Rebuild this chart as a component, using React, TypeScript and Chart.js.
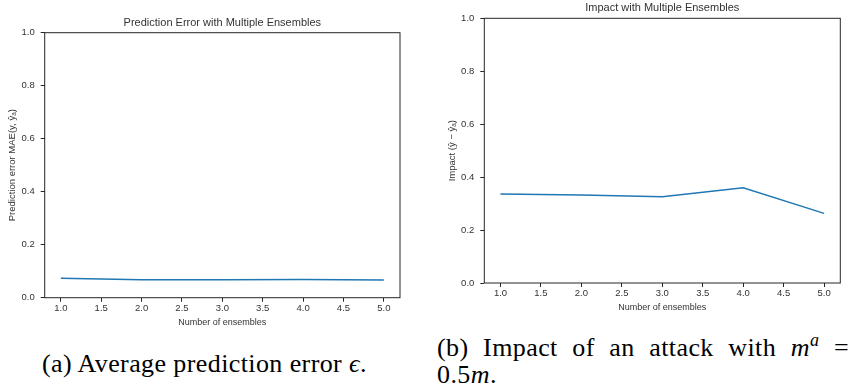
import React, { useEffect, useRef } from "react";
import { Chart, registerables } from "chart.js";
Chart.register(...registerables);

const ensembles = [1, 2, 3, 4, 5];
const predictionError = [0.073, 0.068, 0.068, 0.069, 0.067];
const impact = [0.336, 0.332, 0.326, 0.36, 0.263];
const xTicks = [1.0, 1.5, 2.0, 2.5, 3.0, 3.5, 4.0, 4.5, 5.0];
const yTicks = [0.0, 0.2, 0.4, 0.6, 0.8, 1.0];

const FONT = "'Liberation Sans', Arial, sans-serif";
const SERIF = "'Liberation Serif', 'Times New Roman', serif";
const LINE = "#1f77b4";
const AXIS = "#262626";
const TEXT = "#333333";

type PanelProps = {
  title: string;
  yTitle: string;
  values: number[];
  width: number;
  height: number;
  plotTop: number;
  padRight: number;
  yWidth: number;
  xHeight: number;
  yTitlePad: number;
  titleY: number;
};

function Panel(p: PanelProps) {
  const ref = useRef<HTMLCanvasElement | null>(null);
  useEffect(() => {
    if (!ref.current) return;
    const frame = {
      id: "frame",
      afterDraw(chart: any) {
        const { ctx, chartArea } = chart;
        const { left, top, right, bottom } = chartArea;
        ctx.save();
        ctx.strokeStyle = AXIS;
        ctx.lineWidth = 1;
        ctx.strokeRect(left, top, right - left, bottom - top);
        ctx.fillStyle = TEXT;
        ctx.font = "11px " + FONT;
        ctx.textAlign = "center";
        ctx.textBaseline = "middle";
        ctx.fillText(p.title, (left + right) / 2, p.titleY);
        ctx.restore();
      },
    };
    const chart = new Chart(ref.current, {
      type: "line",
      data: {
        datasets: [
          {
            data: ensembles.map((x, i) => ({ x, y: p.values[i] })),
            borderColor: LINE,
            borderWidth: 1.5,
            pointRadius: 0,
            tension: 0,
            fill: false,
          },
        ],
      },
      options: {
        animation: false,
        responsive: false,
        layout: { padding: { top: p.plotTop, right: p.padRight, left: 0, bottom: 0 } },
        plugins: { legend: { display: false }, tooltip: { enabled: false }, title: { display: false } },
        scales: {
          x: {
            type: "linear",
            min: 0.8,
            max: 5.2,
            afterBuildTicks: (s: any) => {
              s.ticks = xTicks.map((v) => ({ value: v }));
            },
            afterFit: (s: any) => {
              s.height = p.xHeight;
            },
            ticks: {
              callback: (v: any) => Number(v).toFixed(1),
              font: { family: FONT, size: 9.5 },
              color: TEXT,
              padding: 1,
              maxRotation: 0,
              autoSkip: false,
            },
            grid: { display: true, drawOnChartArea: false, drawTicks: true, tickLength: 4, tickColor: AXIS },
            border: { display: false },
            title: {
              display: true,
              text: "Number of ensembles",
              font: { family: FONT, size: 9 },
              color: TEXT,
              padding: { top: 0, bottom: 7 },
            },
          },
          y: {
            type: "linear",
            min: 0,
            max: 1,
            afterBuildTicks: (s: any) => {
              s.ticks = yTicks.map((v) => ({ value: v }));
            },
            afterFit: (s: any) => {
              s.width = p.yWidth;
            },
            ticks: {
              callback: (v: any) => Number(v).toFixed(1),
              font: { family: FONT, size: 9.5 },
              color: TEXT,
              padding: 6,
            },
            grid: { display: true, drawOnChartArea: false, drawTicks: true, tickLength: 4, tickColor: AXIS },
            border: { display: false },
            title: {
              display: true,
              text: p.yTitle,
              font: { family: FONT, size: 9.5 },
              color: TEXT,
              padding: { top: p.yTitlePad, bottom: 0 },
            },
          },
        },
      },
      plugins: [frame],
    } as any);
    return () => chart.destroy();
  }, []);
  return <canvas ref={ref} width={p.width} height={p.height} style={{ display: "block" }} />;
}

const cap: React.CSSProperties = {
  position: "absolute",
  fontFamily: SERIF,
  fontSize: 26,
  lineHeight: "26px",
  letterSpacing: "0.4px",
  whiteSpace: "nowrap",
  color: "#000",
};

export default function App() {
  return (
    <div style={{ position: "absolute", left: 0, top: 0, width: 854, height: 390, background: "#fff", overflow: "hidden" }}>
      <div style={{ position: "absolute", left: 0, top: 0 }}>
        <Panel
          title="Prediction Error with Multiple Ensembles"
          yTitle="Prediction error MAE(y, ŷₐ)"
          values={predictionError}
          width={427}
          height={335}
          plotTop={32.7}
          padRight={27}
          yWidth={44.7}
          xHeight={37.3}
          yTitlePad={6.9}
          titleY={23.3}
        />
      </div>
      <div style={{ position: "absolute", left: 427, top: 0 }}>
        <Panel
          title="Impact with Multiple Ensembles"
          yTitle="Impact (ŷ − ŷₐ)"
          values={impact}
          width={427}
          height={320}
          plotTop={18.3}
          padRight={13.7}
          yWidth={57.3}
          xHeight={37}
          yTitlePad={19.4}
          titleY={8.3}
        />
      </div>
      <div style={{ ...cap, left: 42, top: 351 }}>
        (a) Average prediction error <i>ϵ</i>.
      </div>
      <div style={{ ...cap, left: 437, top: 335, width: 412, textAlign: "justify", textAlignLast: "justify" }}>
        (b) Impact of an attack with <i>m</i>
        <sup style={{ fontSize: 18, lineHeight: 0 }}>
          <i>a</i>
        </sup>{" "}
        =
      </div>
      <div style={{ ...cap, left: 437, top: 362 }}>
        0.5<i>m</i>.
      </div>
    </div>
  );
}
